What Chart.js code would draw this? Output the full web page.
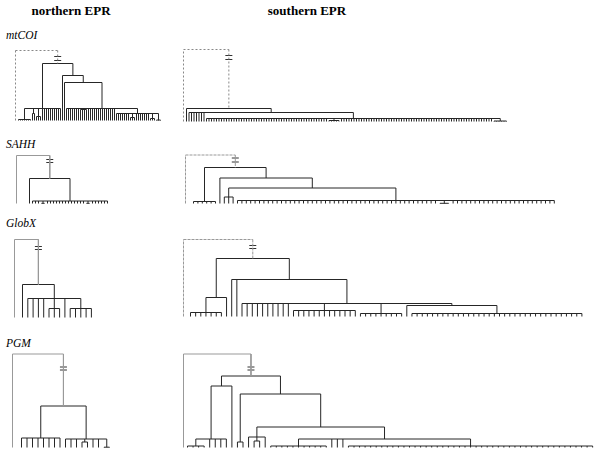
<!DOCTYPE html>
<html><head><meta charset="utf-8">
<script src="https://cdn.jsdelivr.net/npm/chart.js@4.4.1/dist/chart.umd.min.js"></script>
<style>
html,body{margin:0;padding:0;background:#fff;}
#wrap{position:relative;width:600px;height:460px;overflow:hidden;font-family:"Liberation Serif","Times New Roman",serif;}
.t{position:absolute;white-space:nowrap;color:#000;}
canvas{position:absolute;}
</style></head><body><div id="wrap"></div>
<script>
// ---- data ----
const regions = ['northern EPR', 'southern EPR'];
const genes = ['mtCOI', 'SAHH', 'GlobX', 'PGM'];
// tree node = [merge height, ...children]; a plain number child = that many leaves
const mtCOI_north = [57, [12, [1, 7], [7, 2], [4, 3], 10], [45, 1, [38, 1, [12, 7, [11, 4], 14, [7, 7, [3, 3], 7, [2, 3], [0.5, 3]]]]]];
const mtCOI_south = [13, 1, [9, 7, [3, 49, [1, 5], 61, [0.5, 6]]]];
const SAHH_north = [25, 1, [2.5, 3, [0.2, 2], 13, [0.2, 2], 6]];
const SAHH_south = [36, [2, 6], [25.5, 1, [15.5, [6.5, 3], [3, 46, [0.2, 3], 24]]]];
const GlobX_north = [33, 1, [19, 4, [9, 3], 1, [9, 5]]];
const GlobX_south = [58, [19, [4, 7], 1], [37, 1, 1, [13, 10, [6, 13], [3, 9], [11, 1, [3, 34]]]]];
const PGM_north = [41.5, [9.5, 8], [8.5, 3, [5.5, 2], 2, [0.3, 2]]];
const PGM_south = [71.5, [61.5, [8.5, [1.5, 4], 4], 1], [53.5, [5.5, 2], [20.5, [10.5, 1, [6.5, 2], 1], [8.5, [1.5, 11], 3, [1.5, 45]]]]];
// outgroup joining heights (truncated branch)
const outgroupNorth = [70, 48, 78, 93.5];
const outgroupSouth = [72, 48.5, 77, 93.5];

// ---- layout / style (pixels) ----
const titleLayout = [{cx: 71, cy: 11}, {cx: 307, cy: 11}];
const geneLabelY = [35, 144, 223, 343];
const panels = [
  {tree: mtCOI_north, out: outgroupNorth[0], x0: 18.5, s: 2, base: 120.5, outDx: -3, brk: [6, 10], outColor: '#888', outDash: [2, 2]},
  {tree: mtCOI_south, out: outgroupSouth[0], x0: 186.5, s: 2.5, base: 121.5, outDx: -3, brk: [6, 10], outColor: '#888', outDash: [2, 2]},
  {tree: SAHH_north, out: outgroupNorth[1], x0: 29.5, s: 3, base: 203.5, outDx: -13, brk: [4, 7], outColor: '#999', outDash: []},
  {tree: SAHH_south, out: outgroupSouth[1], x0: 193.5, s: 4.4, base: 203.5, outDx: -8, brk: [3, 7], outColor: '#999', outDash: [3, 1]},
  {tree: GlobX_north, out: outgroupNorth[2], x0: 22.5, s: 5.3, base: 317.5, outDx: -8, brk: [7, 10], outColor: '#999', outDash: []},
  {tree: GlobX_south, out: outgroupSouth[2], x0: 190.5, s: 5.15, base: 316.5, outDx: -7, brk: [6, 9], outColor: '#999', outDash: [3, 1]},
  {tree: PGM_north, out: outgroupNorth[3], x0: 21.5, s: 5.5, base: 447.5, outDx: -9, brk: [13, 16], outColor: '#999', outDash: []},
  {tree: PGM_south, out: outgroupSouth[3], x0: 187.5, s: 5.55, base: 447.5, outDx: -4, brk: [13, 16], outColor: '#999', outDash: []}
];

const wrap = document.getElementById('wrap');
function addText(txt, left, top, css) {
  const d = document.createElement('div');
  d.className = 't'; d.textContent = txt; d.style.cssText += css;
  d.style.left = left + 'px'; d.style.top = top + 'px';
  wrap.appendChild(d); return d;
}
regions.forEach((r, i) => {
  addText(r, titleLayout[i].cx - 100, titleLayout[i].cy - 7,
    'width:200px;text-align:center;font-weight:bold;font-size:13px;line-height:14px;');
});
genes.forEach((g, i) => addText(g, 6, geneLabelY[i] - 7, 'font-style:italic;font-size:11.5px;line-height:14px;'));

function buildTree(node, st, segs) {
  const h = node[0];
  const kids = [];
  for (let i = 1; i < node.length; i++) {
    const c = node[i];
    if (Array.isArray(c)) kids.push(buildTree(c, st, segs));
    else for (let k = 0; k < c; k++) kids.push({x: st.n++, h: 0});
  }
  kids.forEach(k => segs.push([k.x, k.h, k.x, h]));
  const x1 = kids[0].x, x2 = kids[kids.length - 1].x;
  segs.push([x1, h, x2, h]);
  return {x: (x1 + x2) / 2, h: h};
}
function toPts(segs) {
  const pts = [];
  segs.forEach(s => { pts.push({x: s[0], y: s[1]}, {x: s[2], y: s[3]}, {x: s[2], y: null}); });
  return pts;
}

panels.forEach(p => {
  const segs = [];
  const st = {n: 0};
  const root = buildTree(p.tree, st, segs);
  const ox = p.outDx / p.s;
  const outSegs = [[ox, 0, ox, p.out], [ox, p.out, root.x, p.out], [root.x, p.out, root.x, root.h]];
  const bw = 3.5 / p.s;
  const brkSegs = p.brk.map(b => [root.x - bw, p.out - b, root.x + bw, p.out - b]);
  const pad = 6;
  const left = Math.floor(p.x0 + p.outDx - pad);
  const right = Math.ceil(p.x0 + (st.n - 1) * p.s + pad);
  const top = Math.floor(p.base - p.out - pad);
  const bottom = Math.ceil(p.base + pad);
  const cv = document.createElement('canvas');
  cv.width = right - left; cv.height = bottom - top;
  cv.style.left = left + 'px'; cv.style.top = top + 'px';
  cv.style.width = cv.width + 'px'; cv.style.height = cv.height + 'px';
  wrap.appendChild(cv);
  const ds = (data, color, dash) => ({data: data, showLine: true, borderColor: color, borderWidth: 1, borderDash: dash,
    pointRadius: 0, spanGaps: false, clip: false, tension: 0});
  new Chart(cv, {
    type: 'scatter',
    data: {datasets: [ds(toPts(outSegs), p.outColor, p.outDash), ds(toPts(segs), '#262626', []), ds(toPts(brkSegs), '#333', [])]},
    options: {
      responsive: false, animation: false, events: [], devicePixelRatio: 1,
      layout: {padding: 0},
      plugins: {legend: {display: false}, tooltip: {enabled: false}, title: {display: false}},
      scales: {
        x: {type: 'linear', display: false, min: (left - p.x0) / p.s, max: (right - p.x0) / p.s},
        y: {type: 'linear', display: false, min: p.base - bottom, max: p.base - top}
      }
    }
  });
});
</script></body></html>
